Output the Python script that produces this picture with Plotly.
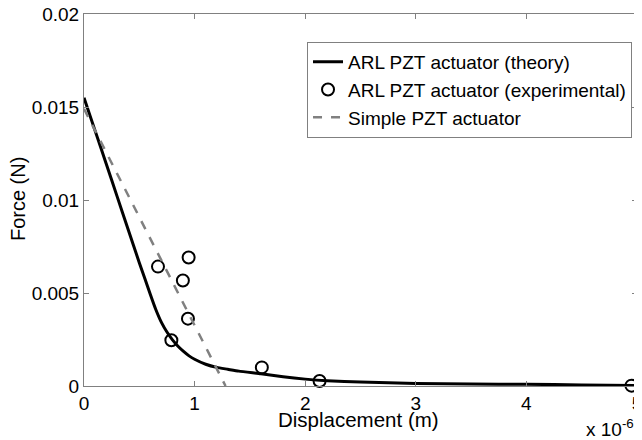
import plotly.graph_objects as go

# displacement in units of 1e-6 m, force in units of 1e-3 N (scaled below)
theory_x = [0, 0.1, 0.2, 0.3, 0.4, 0.5, 0.55, 0.6, 0.65, 0.7, 0.75, 0.8, 0.85, 0.9,
            0.95, 1.0, 1.1, 1.2, 1.3, 1.4, 1.6, 1.8, 2.0, 2.2, 2.5, 3.0, 3.5, 4.0, 4.5, 5.0]
theory_y = [15.5, 13.73, 11.96, 10.18, 8.4, 6.63, 5.78, 4.92, 4.1, 3.42, 2.9, 2.48, 2.14, 1.86,
            1.62, 1.44, 1.17, 1.0, 0.9, 0.8, 0.66, 0.5, 0.37, 0.28, 0.21, 0.14, 0.11, 0.09, 0.06, 0.03]

exp_x = [0.669, 0.946, 0.894, 0.94, 0.79, 1.608, 2.13, 4.95]
exp_y = [6.42, 6.91, 5.67, 3.62, 2.46, 1.0, 0.27, 0.02]

simple_x = [0, 1.28]
simple_y = [14.9, 0]

x_ticks = [0, 1, 2, 3, 4, 5]
y_ticks = [0, 0.005, 0.01, 0.015, 0.02]
y_tick_labels = ["0", "0.005", "0.01", "0.015", "0.02"]

FONT = "Liberation Sans, Arial, sans-serif"
GRAY = "#808080"

fig = go.Figure()
fig.add_trace(go.Scatter(
    x=[v * 1e-6 for v in theory_x], y=[v * 1e-3 for v in theory_y],
    mode="lines", name="ARL PZT actuator (theory)",
    line=dict(color="black", width=3, shape="spline", smoothing=0.5),
))
fig.add_trace(go.Scatter(
    x=[v * 1e-6 for v in exp_x], y=[v * 1e-3 for v in exp_y],
    mode="markers", name="ARL PZT actuator (experimental)",
    marker=dict(symbol="circle-open", size=12, color="black", line=dict(width=2, color="black")),
    cliponaxis=False,
))
fig.add_trace(go.Scatter(
    x=[v * 1e-6 for v in simple_x], y=[v * 1e-3 for v in simple_y],
    mode="lines", name="Simple PZT actuator",
    line=dict(color=GRAY, width=2.5, dash="dash"),
))

# page body has an 8px margin, so the figure is a bit smaller than the window
fig.update_layout(
    width=634, height=432,
    margin=dict(l=76, r=5, t=6, b=54),
    paper_bgcolor="white", plot_bgcolor="white",
    font=dict(family=FONT, size=19, color="black"),
    legend=dict(
        x=0.991, y=0.925, xanchor="right", yanchor="top",
        bordercolor=GRAY, borderwidth=1, bgcolor="white",
        font=dict(size=19),
        tracegroupgap=0,
    ),
    annotations=[
        dict(text="Displacement (m)", x=0.497, y=-0.09, xref="paper", yref="paper",
             xanchor="center", yanchor="middle", showarrow=False, font=dict(size=20.5)),
        dict(text="Force (N)", x=-0.119, y=0.503, xref="paper", yref="paper",
             xanchor="center", yanchor="middle", textangle=-90, showarrow=False, font=dict(size=20)),
        dict(text="x 10<sup>-6</sup>", x=0.998, y=-0.112, xref="paper", yref="paper",
             xanchor="right", yanchor="middle", showarrow=False, font=dict(size=19)),
    ],
)

fig.update_xaxes(
    range=[0, 5e-6], tickvals=[v * 1e-6 for v in x_ticks], ticktext=[str(v) for v in x_ticks],
    showline=True, linecolor=GRAY, linewidth=1, mirror="ticks",
    ticks="inside", ticklen=5, tickcolor=GRAY, showgrid=False, zeroline=False,
    tickfont=dict(size=19), automargin=False, ticklabeloverflow="allow",
)
fig.update_yaxes(
    range=[0, 0.02], tickvals=y_ticks, ticktext=y_tick_labels,
    showline=True, linecolor=GRAY, linewidth=1, mirror="ticks",
    ticks="inside", ticklen=5, tickcolor=GRAY, showgrid=False, zeroline=False,
    tickfont=dict(size=19), automargin=False, ticklabeloverflow="allow",
)

fig.write_html("out.html")
